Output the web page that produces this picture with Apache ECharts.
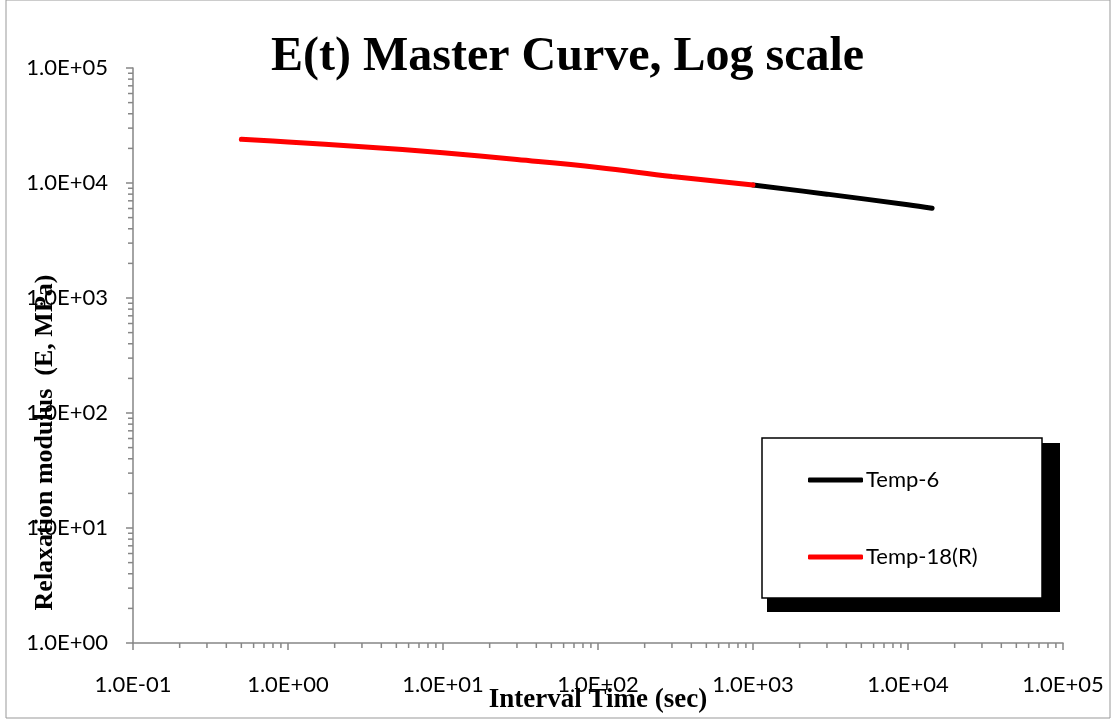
<!DOCTYPE html>
<html><head><meta charset="utf-8">
<script src="https://cdn.jsdelivr.net/npm/echarts@6/dist/echarts.min.js"></script>
<style>html,body{margin:0;padding:0;background:#fff}#c{width:1117px;height:719px}</style>
</head><body><div id="c"></div>
<script>
// ---- data ----
const temp18Time    = [0.5, 1, 3, 10, 30, 100, 300, 1000];
const temp18Modulus = [24000, 22750, 20700, 18300, 16000, 13650, 11400, 9600];
const temp6Time     = [1000, 3000, 10000, 14300];
const temp6Modulus  = [9600, 8000, 6470, 6030];
const xTickLabels = ['1.0E-01','1.0E+00','1.0E+01','1.0E+02','1.0E+03','1.0E+04','1.0E+05'];
const yTickLabels = ['1.0E+00','1.0E+01','1.0E+02','1.0E+03','1.0E+04','1.0E+05'];
const xMinExp = -1, xMaxExp = 5, yMinExp = 0, yMaxExp = 5;
const minorMultipliers = [2,3,4,5,6,7,8,9];

const axisColor = '#868686';
const xMinor = [], yMinor = [];
for (let k = xMinExp; k < xMaxExp; k++) minorMultipliers.forEach(m => xMinor.push([m*Math.pow(10,k), Math.pow(10,yMinExp)]));
for (let k = yMinExp; k < yMaxExp; k++) minorMultipliers.forEach(m => yMinor.push([Math.pow(10,xMinExp), m*Math.pow(10,k)]));

const chart = echarts.init(document.getElementById('c'), null, {renderer:'canvas'});
function tickLabel(arr, minExp){ return v => arr[Math.round(Math.log10(v)) - minExp] || ''; }

chart.setOption({
  animation:false,
  backgroundColor:'#fff',
  title:{
    text:'E(t) Master Curve, Log scale',
    left:266, top:29,
    textStyle:{fontFamily:'Liberation Serif', fontWeight:'bold', fontSize:48, color:'#000'}
  },
  grid:{left:133, right:54, top:68, bottom:76, containLabel:false, outerBoundsMode:'none'},
  xAxis:{
    type:'log', logBase:10, min:Math.pow(10,xMinExp), max:Math.pow(10,xMaxExp), splitNumber:6,
    name:'Interval Time (sec)', nameLocation:'middle', nameGap:44, nameMoveOverlap:false,
    nameTextStyle:{fontFamily:'Liberation Serif', fontWeight:'bold', fontSize:27, color:'#000'},
    axisLine:{lineStyle:{color:axisColor, width:1.5}},
    axisTick:{show:true, length:7, lineStyle:{color:axisColor, width:1.5}},
    splitLine:{show:false}, minorTick:{show:false}, minorSplitLine:{show:false},
    axisLabel:{formatter:tickLabel(xTickLabels, xMinExp), margin:31, fontFamily:'Lato', fontSize:22, color:'#000'}
  },
  yAxis:{
    type:'log', logBase:10, min:Math.pow(10,yMinExp), max:Math.pow(10,yMaxExp), splitNumber:5,
    name:'Relaxation modulus  (E, MPa)', nameLocation:'middle', nameGap:75, nameRotate:90, nameMoveOverlap:false,
    nameTextStyle:{fontFamily:'Liberation Serif', fontWeight:'bold', fontSize:26, color:'#000', padding:[0,174,0,0]},
    axisLine:{lineStyle:{color:axisColor, width:1.5}},
    axisTick:{show:true, length:7, lineStyle:{color:axisColor, width:1.5}},
    splitLine:{show:false}, minorTick:{show:false}, minorSplitLine:{show:false},
    axisLabel:{formatter:tickLabel(yTickLabels, yMinExp), margin:25, fontFamily:'Lato', fontSize:22, color:'#000'}
  },
  legend:{
    orient:'vertical', left:808, top:467, padding:0, itemWidth:55, itemHeight:5, itemGap:51,
    icon:'roundRect', data:['Temp-6','Temp-18(R)'],
    textStyle:{fontFamily:'Lato', fontSize:22, color:'#000', lineHeight:26, padding:[0,0,0,-2]}
  },
  graphic:[
    {type:'rect', z:-10, silent:true, shape:{x:6, y:0, width:1104, height:718}, style:{fill:'none', stroke:'#999', lineWidth:1}},
    {type:'rect', z:1, silent:true, shape:{x:767, y:443, width:293, height:169}, style:{fill:'#000'}},
    {type:'rect', z:2, silent:true, shape:{x:762, y:438, width:280, height:160}, style:{fill:'#fff', stroke:'#000', lineWidth:1.5}}
  ],
  series:[
    {name:'Temp-6', type:'line', data:temp6Time.map((t,i)=>[t,temp6Modulus[i]]), showSymbol:false, smooth:0.4,
     lineStyle:{color:'#000', width:5, cap:'round'}, itemStyle:{color:'#000'}, z:3},
    {name:'Temp-18(R)', type:'line', data:temp18Time.map((t,i)=>[t,temp18Modulus[i]]), showSymbol:false, smooth:0.4,
     lineStyle:{color:'#ff0000', width:5, cap:'round'}, itemStyle:{color:'#ff0000'}, z:4},
    {name:'xMinor', type:'custom', silent:true, clip:false, data:xMinor,
     renderItem:(params, api)=>{ const p = api.coord([api.value(0), api.value(1)]);
       return {type:'line', shape:{x1:p[0], y1:p[1], x2:p[0], y2:p[1]+5}, style:{stroke:axisColor, lineWidth:1.5}}; }},
    {name:'yMinor', type:'custom', silent:true, clip:false, data:yMinor,
     renderItem:(params, api)=>{ const p = api.coord([api.value(0), api.value(1)]);
       return {type:'line', shape:{x1:p[0]-5, y1:p[1], x2:p[0], y2:p[1]}, style:{stroke:axisColor, lineWidth:1.5}}; }}
  ]
});
</script></body></html>
